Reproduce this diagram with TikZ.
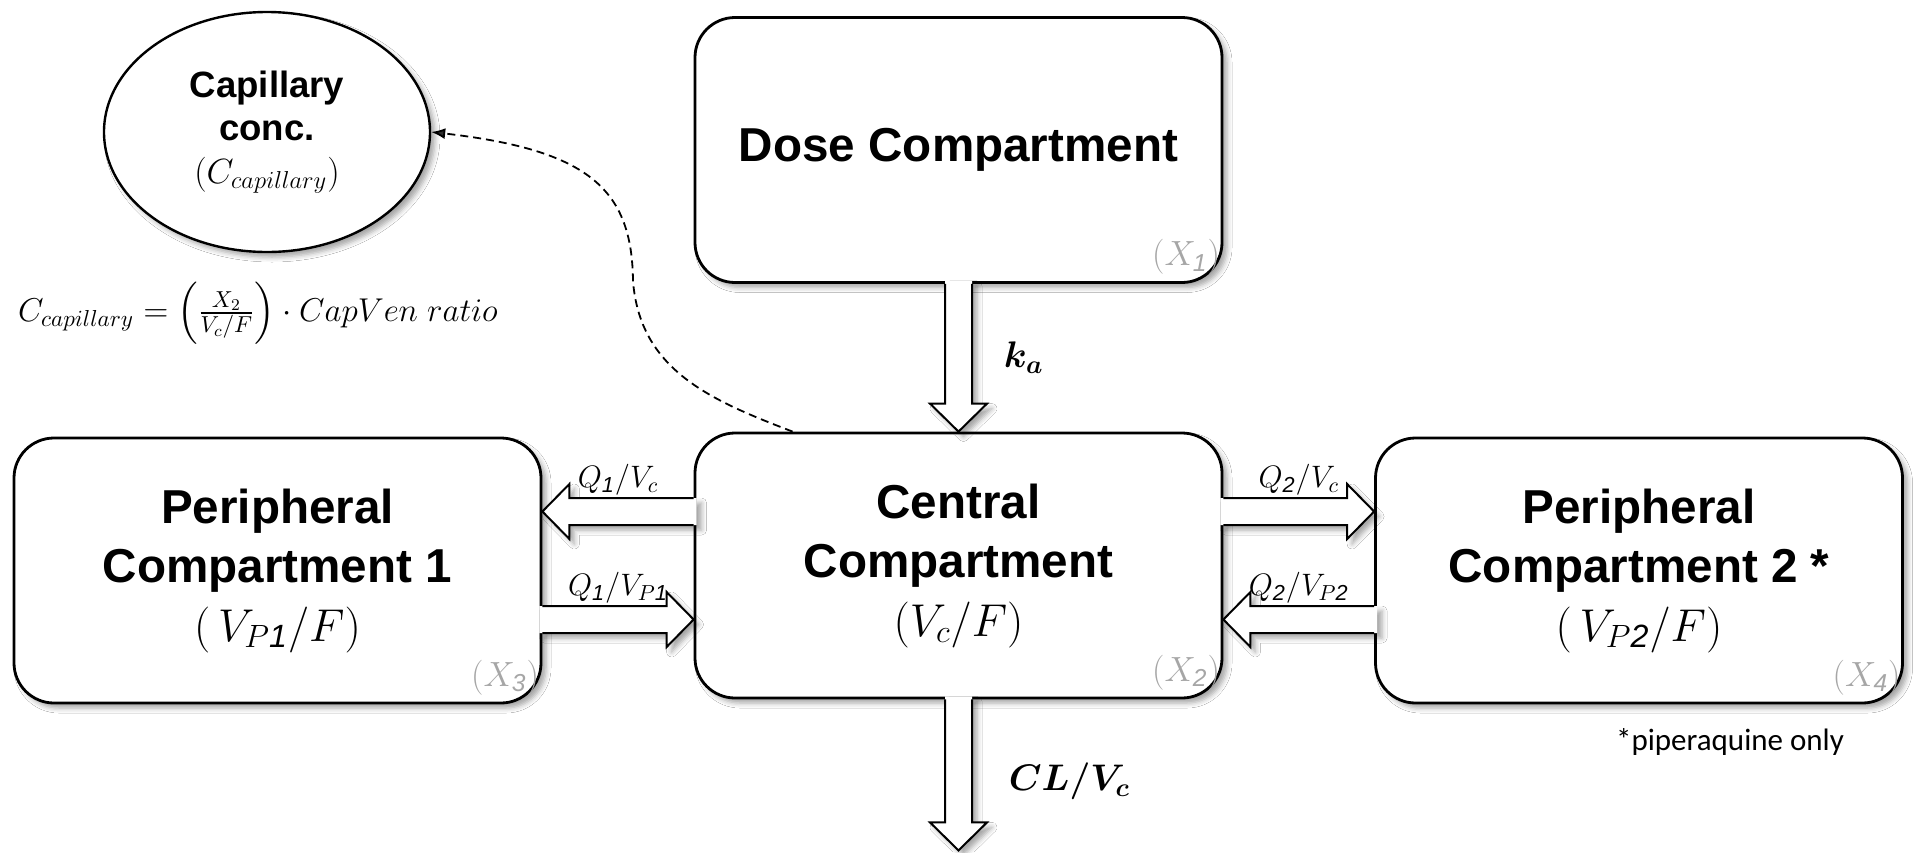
\documentclass[tikz,border=0pt]{standalone}
\usepackage{fix-cm}
\usepackage{amsmath}
\usepackage{fontspec}
\setmainfont{Liberation Sans}
\newfontfamily\carlito{Carlito}
\usetikzlibrary{calc,shapes.geometric,shadows.blur,arrows.meta}
\newcommand\titlefont{\fontsize{23.8}{29.5}\selectfont\bfseries}
\newcommand\mfont{\fontsize{23}{29.5}\selectfont}
\tikzset{
  shd/.style={blur shadow={shadow xshift=2.5pt, shadow yshift=-2.5pt, shadow blur radius=2.5pt, shadow opacity=35}},
  compbox/.style={draw, line width=1.4pt, rounded corners=20pt, fill=white, shd,
    minimum width=263.5pt, minimum height=132.5pt, align=center, font=\titlefont, inner sep=0pt},
  capnode/.style={ellipse, draw, line width=1.2pt, fill=white, shd, minimum width=163pt, minimum height=120pt,
    inner sep=0pt, align=center, font=\fontsize{18.3}{21.5}\selectfont\bfseries},
  xlbl/.style={text=black!35, font=\fontsize{17.5}{19}\selectfont, inner sep=0pt, anchor=south east},
  qlbl/.style={font=\fontsize{15.5}{17}\selectfont, inner sep=1pt, anchor=south},
  blbl/.style={font=\fontsize{18.5}{20}\selectfont\boldmath, inner sep=0pt, anchor=west},
  blockline/.style={line width=1pt, line join=miter},
}
% vertical block arrow: #1 start on box edge, #2 tip
\newcommand\varrow[2]{%
  \fill[white, shd] ($(#1)+(-13.5,-3)$) -- ($(#2)+(-13.5,-28)$) -- ($(#2)+(-28.5,-28)$) -- (#2)
    -- ($(#2)+(28.5,-28)$) -- ($(#2)+(13.5,-28)$) -- ($(#1)+(13.5,-3)$) -- cycle;
  \draw[blockline] ($(#1)+(-13.5,0)$) -- ($(#2)+(-13.5,-28)$) -- ($(#2)+(-28.5,-28)$) -- (#2)
    -- ($(#2)+(28.5,-28)$) -- ($(#2)+(13.5,-28)$) -- ($(#1)+(13.5,0)$);}
% right-pointing block arrow
\newcommand\rarrow[2]{%
  \fill[white, shd] ($(#1)+(-3,-13.5)$) -- ($(#2)+(-27,-13.5)$) -- ($(#2)+(-27,-27.5)$) -- (#2)
    -- ($(#2)+(-27,27.5)$) -- ($(#2)+(-27,13.5)$) -- ($(#1)+(-3,13.5)$) -- cycle;
  \draw[blockline] ($(#1)+(0,-13.5)$) -- ($(#2)+(-27,-13.5)$) -- ($(#2)+(-27,-27.5)$) -- (#2)
    -- ($(#2)+(-27,27.5)$) -- ($(#2)+(-27,13.5)$) -- ($(#1)+(0,13.5)$);}
% left-pointing block arrow
\newcommand\larrow[2]{%
  \fill[white, shd] ($(#1)+(3,-13.5)$) -- ($(#2)+(27,-13.5)$) -- ($(#2)+(27,-27.5)$) -- (#2)
    -- ($(#2)+(27,27.5)$) -- ($(#2)+(27,13.5)$) -- ($(#1)+(3,13.5)$) -- cycle;
  \draw[blockline] ($(#1)+(0,-13.5)$) -- ($(#2)+(27,-13.5)$) -- ($(#2)+(27,-27.5)$) -- (#2)
    -- ($(#2)+(27,27.5)$) -- ($(#2)+(27,13.5)$) -- ($(#1)+(0,13.5)$);}
\begin{document}
\begin{tikzpicture}[x=0.5pt, y=-0.5pt]
\useasboundingbox (0,0) rectangle (1917,852);
\fill[white] (0,0) rectangle (1917,852);

% compartments
\node[compbox] (dose) at (958.5,150) {Dose Compartment};
\node[compbox] (central) at (958.5,565.5) {Central\\Compartment\\{\mfont$(V_c/F)$}};
\node[compbox] (p1) at (277.5,570.5) {Peripheral\\Compartment 1\\{\mfont$(\,V_{P\mathit{1}}/F)$}};
\node[compbox] (p2) at (1639,570.5) {Peripheral\\Compartment 2 *\\{\mfont$(\,V_{P\mathit{2}}/F)$}};

% amount labels
\node[xlbl] (x1) at ($(dose.south east)+(-3,-9)$) {$(X_{\mathit{1}})$};
\node[xlbl] (x2) at ($(central.south east)+(-3,-9)$) {$(X_{\mathit{2}})$};
\node[xlbl] (x3) at ($(p1.south east)+(-3,-9)$) {$(X_{\mathit{3}})$};
\node[xlbl] (x4) at ($(p2.south east)+(-3,-9)$) {$(X_{\mathit{4}})$};

% capillary
\node[capnode] (capil) at (267,132) {Capillary\\conc.\\{\fontsize{17.5}{20}\selectfont\mdseries$(C_{capillary})$}};
\node[font=\fontsize{16.5}{20}\selectfont, inner sep=0pt] (formula) at (258,313)
  {$C_{capillary} = \left(\frac{X_2}{V_c/F}\right)\cdot CapVen\;ratio$};

% coordinates for block arrows
\coordinate (a1s) at ($(central.west)+(0,-54)$);
\coordinate (a1t) at (p1.east |- a1s);
\coordinate (a2t) at ($(central.west)+(0,54)$);
\coordinate (a2s) at (p1.east |- a2t);
\coordinate (a3s) at ($(central.east)+(0,-54)$);
\coordinate (a3t) at (p2.west |- a3s);
\coordinate (a4t) at ($(central.east)+(0,54)$);
\coordinate (a4s) at (p2.west |- a4t);
\coordinate (clt) at ($(central.south)+(0,151)$);

\varrow{dose.south}{central.north}
\varrow{central.south}{clt}
\larrow{a1s}{a1t}
\rarrow{a2s}{a2t}
\rarrow{a3s}{a3t}
\larrow{a4s}{a4t}

% arrow labels
\node[qlbl] (l1) at ($(a1s)!0.5!(a1t)+(0,-13.5)$) {$Q_{\mathit{1}}/V_c$};
\node[qlbl] (l2) at ($(a2s)!0.5!(a2t)+(0,-13.5)$) {$Q_{\mathit{1}}/V_{P\mathit{1}}$};
\node[qlbl] (l3) at ($(a3s)!0.5!(a3t)+(0,-13.5)$) {$Q_{\mathit{2}}/V_c$};
\node[qlbl] (l4) at ($(a4s)!0.5!(a4t)+(0,-13.5)$) {$Q_{\mathit{2}}/V_{P\mathit{2}}$};
\node[blbl] (ka) at ($(dose.south)!0.5!(central.north)+(45,0)$) {$k_a$};
\node[blbl] (cl) at ($(central.south)+(50,82)$) {$CL/V_c$};

% dashed link to capillary
\coordinate (dstart) at ($(central.north west)+(99,0)$);
\draw[dashed, dash pattern=on 4pt off 2.5pt, line width=0.9pt, -{Latex[length=7pt,width=5.5pt]}]
  (dstart) .. controls (710,400) and (640,370) .. (633,281)
  .. controls (632,190) and (590,150) .. (capil.east);

% footnote
\node[font=\carlito\fontsize{15.5}{18}\selectfont, inner sep=0pt] (note) at (1730,742) {*piperaquine only};
\end{tikzpicture}
\end{document}
